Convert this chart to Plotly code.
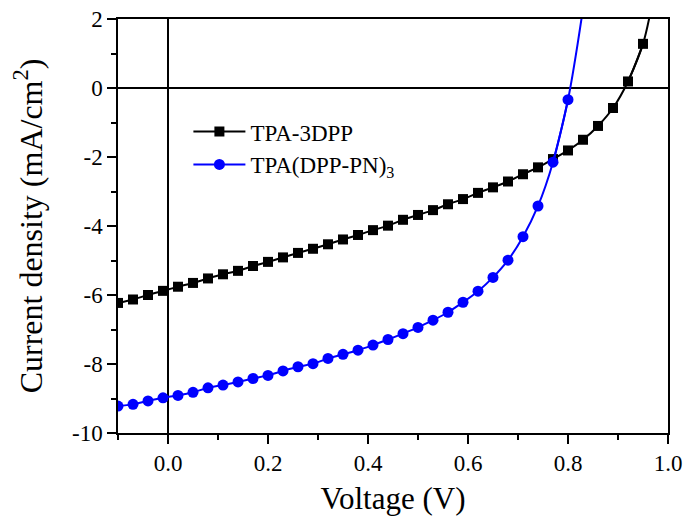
import plotly.graph_objects as go

# Bias voltage steps (V) at which the J-V curves were sampled
voltage = [-0.10, -0.07, -0.04, -0.01, 0.02, 0.05, 0.08, 0.11, 0.14, 0.17,
           0.20, 0.23, 0.26, 0.29, 0.32, 0.35, 0.38, 0.41, 0.44, 0.47,
           0.50, 0.53, 0.56, 0.59, 0.62, 0.65, 0.68, 0.71, 0.74, 0.77,
           0.80, 0.83, 0.86, 0.89, 0.92, 0.95]

# Current density (mA/cm^2) for TPA-3DPP
j_tpa3dpp = [-6.23, -6.13, -6.00, -5.88, -5.76, -5.65, -5.52, -5.40, -5.30, -5.16,
             -5.04, -4.91, -4.78, -4.66, -4.53, -4.39, -4.26, -4.12, -3.99, -3.82,
             -3.68, -3.54, -3.37, -3.22, -3.04, -2.88, -2.71, -2.50, -2.30, -2.06,
             -1.81, -1.50, -1.10, -0.58, 0.19, 1.28]

# Current density (mA/cm^2) for TPA(DPP-PN)3 (measured up to 0.80 V)
voltage_pn = voltage[:31]
j_tpa_pn = [-9.22, -9.17, -9.07, -8.98, -8.91, -8.82, -8.69, -8.61, -8.52, -8.42,
            -8.33, -8.20, -8.08, -7.99, -7.84, -7.72, -7.60, -7.45, -7.29, -7.12,
            -6.94, -6.73, -6.50, -6.21, -5.89, -5.49, -4.99, -4.31, -3.42, -2.15,
            -0.34]

# Fitted curve continuation past the last sampled point (clipped by the axis)
tail_tpa3dpp_v = [0.92, 0.95, 0.97]
tail_tpa3dpp_j = [0.19, 1.28, 2.60]
tail_pn_v = [0.77, 0.80, 0.83]
tail_pn_j = [-2.15, -0.34, 2.30]

y_ticks = [-10, -8, -6, -4, -2, 0, 2]
y_tick_text = ["-10", "-8", "-6", "-4", "-2", "0", "2"]
x_ticks = [0.0, 0.2, 0.4, 0.6, 0.8, 1.0]
x_tick_text = ["0.0", "0.2", "0.4", "0.6", "0.8", "1.0"]

FONT = "Liberation Serif"
BLUE = "#0000ff"

fig = go.Figure()

fig.add_trace(go.Scatter(
    x=tail_tpa3dpp_v, y=tail_tpa3dpp_j, mode="lines",
    line=dict(color="black", width=2, shape="spline"),
    showlegend=False, hoverinfo="skip"))
fig.add_trace(go.Scatter(
    x=voltage, y=j_tpa3dpp, mode="lines+markers", name="TPA-3DPP",
    line=dict(color="black", width=2, shape="spline"),
    marker=dict(symbol="square", size=10, color="black")))

fig.add_trace(go.Scatter(
    x=tail_pn_v, y=tail_pn_j, mode="lines",
    line=dict(color=BLUE, width=2, shape="spline"),
    showlegend=False, hoverinfo="skip"))
fig.add_trace(go.Scatter(
    x=voltage_pn, y=j_tpa_pn, mode="lines+markers", name="TPA(DPP-PN)<sub>3</sub>",
    line=dict(color=BLUE, width=2, shape="spline"),
    marker=dict(symbol="circle", size=11, color=BLUE)))

axis_common = dict(
    showgrid=False,
    showline=True, linecolor="black", linewidth=1.5, mirror=True,
    ticks="outside", ticklen=9, tickwidth=1.5, tickcolor="black",
    zeroline=True, zerolinecolor="black", zerolinewidth=1.5,
    tickfont=dict(family=FONT, size=23, color="black"),
)

fig.update_xaxes(
    range=[-0.1, 1.0], tickvals=x_ticks, ticktext=x_tick_text,
    minor=dict(ticks="outside", ticklen=5, tickwidth=1.5, tickcolor="black",
               dtick=0.1, tick0=0),
    title=dict(text="Voltage (V)", font=dict(family=FONT, size=31, color="black"),
               standoff=12),
    **axis_common)

fig.update_yaxes(
    range=[-10, 2], tickvals=y_ticks, ticktext=y_tick_text,
    minor=dict(ticks="outside", ticklen=5, tickwidth=1.5, tickcolor="black",
               dtick=1, tick0=0),
    title=dict(text="Current density (mA/cm<sup>2</sup>)",
               font=dict(family=FONT, size=32, color="black"), standoff=20),
    **axis_common)

fig.update_layout(
    width=685, height=521,
    margin=dict(l=118, r=17, t=19, b=88, autoexpand=False),
    paper_bgcolor="white", plot_bgcolor="white",
    legend=dict(x=0.128, y=0.78, xanchor="left", yanchor="top",
                bgcolor="rgba(0,0,0,0)", borderwidth=0,
                font=dict(family=FONT, size=23, color="black"),
                itemwidth=52, tracegroupgap=0),
)

fig.write_html("out.html")
